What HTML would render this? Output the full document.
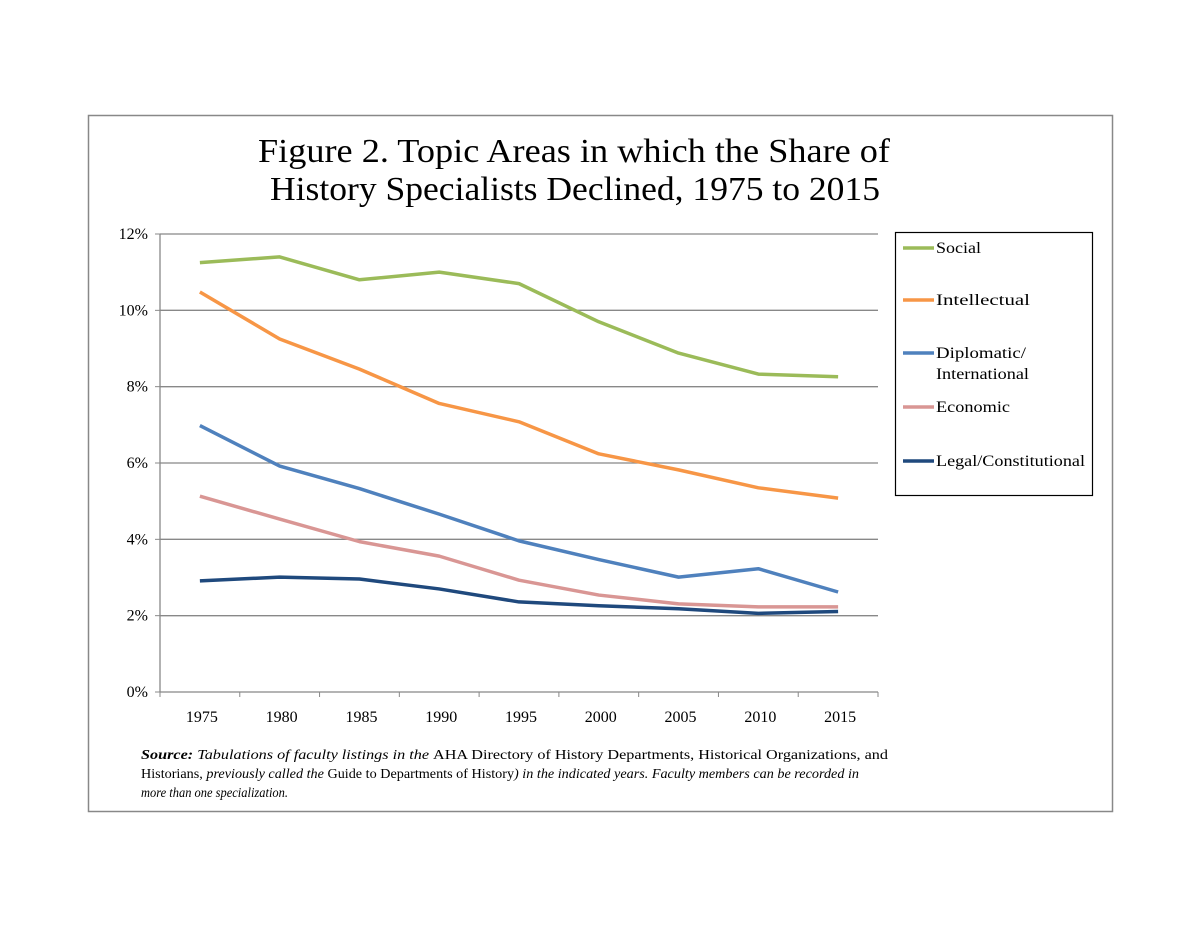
<!DOCTYPE html>
<html><head><meta charset="utf-8"><style>
body{margin:0;background:#fff;width:1200px;height:927px;overflow:hidden;font-family:"Liberation Serif",serif;}
svg text{font-family:"Liberation Serif",serif;}
</style></head><body>
<svg width="1200" height="927">
<rect x="88.5" y="115.5" width="1024" height="696" fill="none" stroke="#888" stroke-width="1.5"/>
<text x="258" y="162" font-size="34" textLength="632" lengthAdjust="spacingAndGlyphs">Figure 2. Topic Areas in which the Share of</text>
<text x="270" y="200" font-size="34" textLength="610" lengthAdjust="spacingAndGlyphs">History Specialists Declined, 1975 to 2015</text>
<g id="grid"></g><g id="axes"></g><g id="series"></g>
<rect x="895.5" y="232.5" width="197" height="263" fill="#fff" stroke="#000" stroke-width="1.2"/>
<g id="legend"></g>
<text x="141" y="759" font-size="14" font-style="italic" textLength="747" lengthAdjust="spacingAndGlyphs"><tspan font-weight="bold">Source:</tspan> Tabulations of faculty listings in the <tspan font-style="normal">AHA Directory of History Departments, Historical Organizations, and</tspan></text>
<text x="141" y="778" font-size="14" font-style="italic" textLength="718" lengthAdjust="spacingAndGlyphs"><tspan font-style="normal">Historians,</tspan> previously called the <tspan font-style="normal">Guide to Departments of History</tspan>) in the indicated years. Faculty members can be recorded in</text>
<text x="141" y="797" font-size="14" font-style="italic" textLength="147" lengthAdjust="spacingAndGlyphs">more than one specialization.</text>
</svg>
<script>
const years=["1975","1980","1985","1990","1995","2000","2005","2010","2015"];
const yTicks=[0,2,4,6,8,10,12];
const seriesNames=["Social","Intellectual","Diplomatic/International","Economic","Legal/Constitutional"];
const seriesColors=["#9bbb59","#f79646","#4f81bd","#d99694","#1f497d"];
const social=[11.25,11.4,10.8,11.0,10.7,9.7,8.88,8.33,8.26];
const intellectual=[10.48,9.25,8.46,7.56,7.08,6.24,5.82,5.35,5.08];
const diplomatic=[6.98,5.92,5.33,4.66,3.96,3.47,3.01,3.23,2.62];
const economic=[5.13,4.53,3.94,3.56,2.93,2.54,2.31,2.23,2.23];
const legal=[2.91,3.01,2.96,2.70,2.36,2.26,2.18,2.06,2.11];
const allSeries=[social,intellectual,diplomatic,economic,legal];
const NS="http://www.w3.org/2000/svg";
const L=160,R=878,T=234,B=692;
const bw=(R-L)/years.length;
const x=i=>L+bw*(i+0.5);
const y=v=>B-(v/12)*(B-T);
function mk(tag,attrs,parent,txt){const e=document.createElementNS(NS,tag);for(const k in attrs)e.setAttribute(k,attrs[k]);if(txt!==undefined)e.textContent=txt;document.getElementById(parent).appendChild(e);return e;}
yTicks.forEach(t=>{
 if(t>0){const g=mk('line',{x1:L,x2:R,y1:y(t),y2:y(t),stroke:'#888','stroke-width':1.3},'grid');
 
 }
 const tl=mk('text',{x:L-12,y:y(t)+5,'font-size':16,'text-anchor':'end'},'axes',t+'%');
 
 
 const tk=mk('line',{x1:L-5,x2:L,y1:y(t),y2:y(t),stroke:'#888'},'axes');
 
 
});
const ya=mk('line',{x1:L,x2:L,y1:T,y2:B,stroke:'#888','stroke-width':1.3},'axes');


const xa=mk('line',{x1:L,x2:R,y1:B,y2:B,stroke:'#888','stroke-width':1.3},'axes');


years.forEach((yr,i)=>{
 const tk=mk('line',{x1:L+bw*i,x2:L+bw*i,y1:B,y2:B+5,stroke:'#888'},'axes');
 
 
 const t=mk('text',{x:x(i)+2,y:B+30,'font-size':16,'text-anchor':'middle'},'axes',yr);
 
 
});
const tk2=mk('line',{x1:R,x2:R,y1:B,y2:B+5,stroke:'#888'},'axes');


allSeries.forEach((s,k)=>{
 const p=mk('polyline',{points:s.map((v,i)=>x(i)+','+y(v)).join(' '),fill:'none',stroke:seriesColors[k],'stroke-width':3.5,'stroke-linejoin':'round'},'series');
 
 
});
const legY=[248,300,353,407,461];
const legW={"Social":45,"Intellectual":94,"Diplomatic/":90,"International":93,"Economic":74,"Legal/Constitutional":149};
seriesNames.forEach((n,k)=>{
 const ly=legY[k];
 const l=mk('line',{x1:903,x2:934,y1:ly,y2:ly,stroke:seriesColors[k],'stroke-width':3.5},'legend');
 
 
 const parts=n==="Diplomatic/International"?["Diplomatic/","International"]:[n];
 parts.forEach((p,j)=>{
  const t=mk('text',{x:936,y:ly+5+j*21,'font-size':16,textLength:legW[p],lengthAdjust:'spacingAndGlyphs'},'legend',p);
  
  
 });
});
</script>
</body></html>
